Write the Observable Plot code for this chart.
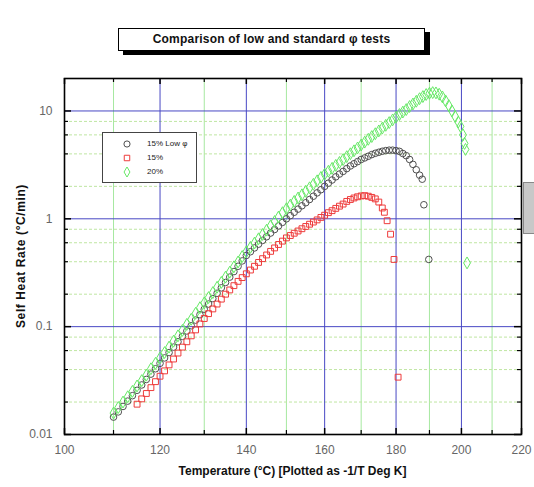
<!DOCTYPE html>
<html>
<head>
<meta charset="utf-8">
<script src="https://cdn.jsdelivr.net/npm/d3@7"></script>
<script src="https://cdn.jsdelivr.net/npm/@observablehq/plot@0.6"></script>
<style>
  body { margin: 0; background: #fff; }
  #wrap { position: relative; width: 534px; height: 487px; font-family: Arial, "Liberation Sans", sans-serif; }
  #wrap > svg { position: absolute; left: 0; top: 0; }
  .title { position: absolute; left: 118px; top: 28px; width: 305px; height: 21px; border: 1px solid #000; background: #fff;
           box-shadow: 5px 4px 0 #000; font-weight: bold; font-size: 12px; letter-spacing: 0.2px; text-align: center; line-height: 21px; color: #111; }
  .xlab { position: absolute; left: 64px; width: 457px; top: 464px; text-align: center; font-weight: bold; font-size: 12px; color: #111; }
  .ylab { position: absolute; left: 21px; top: 256px; transform: translate(-50%, -50%) rotate(-90deg); white-space: nowrap; font-weight: bold; font-size: 12px; letter-spacing: 0.6px; color: #111; }
  .legend { position: absolute; left: 102px; top: 132px; width: 93px; height: 49px; border: 1px solid #444; background: #fff; font-size: 8px; color: #222; }
  .legend .row { position: absolute; left: 0; height: 12px; line-height: 12px; width: 93px; }
  #wrap .legend .row svg { position: absolute; left: 18px; top: 1px; }
  .legend span { position: absolute; left: 44px; white-space: nowrap; }
  .side { position: absolute; left: 523px; top: 182px; width: 12px; height: 50px; background: #c8c8c8; border: 1px solid #888; }
</style>
</head>
<body>
<div id="wrap">
  <div class="title">Comparison of low and standard φ tests</div>
  <div class="xlab">Temperature (°C) [Plotted as -1/T Deg K]</div>
  <div class="ylab">Self Heat Rate (°C/min)</div>
  <div class="side"></div>
</div>
<script>
// ---- Data ----
const seriesNames = ["15% Low φ", "15%", "20%"];

const lowT = [110,111,112,113,114,115,116,117,118,119,120,121,122,123,124,125,126,127,128,129,130,131,132,133,134,135,136,137,138,139,140,141,142,143,144,145,146,147,148,149,150,151,152,153,154,155,156,157,158,159,160,161,162,163,164,165,166,167,168,169,170,171,172,173,174,175,176,177,178,179,180,181,182,183,184,185,186,187,187.8,188.3,189.8];
const lowRate = [0.0145,0.0162,0.0182,0.0204,0.0229,0.0257,0.0288,0.0324,0.0363,0.0407,0.0457,0.0513,0.0575,0.0646,0.0724,0.0813,0.0912,0.102,0.115,0.129,0.145,0.162,0.182,0.204,0.229,0.257,0.288,0.324,0.363,0.407,0.457,0.495,0.537,0.582,0.631,0.682,0.738,0.796,0.859,0.927,1.0,1.07,1.15,1.23,1.32,1.41,1.51,1.62,1.74,1.86,2.0,2.14,2.29,2.45,2.60,2.75,2.92,3.09,3.24,3.39,3.55,3.67,3.80,3.94,4.05,4.14,4.23,4.29,4.33,4.33,4.29,4.22,4.03,3.85,3.55,3.2,2.85,2.54,2.33,1.35,0.42];

const stdT = [115,116,117,118,119,120,121,122,123,124,125,126,127,128,129,130,131,132,133,134,135,136,137,138,139,140,141,142,143,144,145,146,147,148,149,150,151,152,153,154,155,156,157,158,159,160,161,162,163,164,165,166,167,168,169,170,171,172,173,174,175,176,176.6,177.4,178.4,179.4,180.6];
const stdRate = [0.0191,0.0214,0.0240,0.0272,0.0309,0.0347,0.0389,0.0442,0.0501,0.0569,0.0646,0.0724,0.0822,0.0933,0.106,0.119,0.132,0.146,0.162,0.180,0.200,0.219,0.240,0.263,0.285,0.309,0.335,0.363,0.394,0.427,0.462,0.499,0.537,0.578,0.621,0.665,0.700,0.735,0.771,0.809,0.849,0.891,0.933,0.977,1.03,1.08,1.14,1.19,1.25,1.31,1.37,1.45,1.51,1.56,1.60,1.63,1.64,1.62,1.58,1.53,1.43,1.26,1.15,0.96,0.72,0.42,0.034];

const t20T = [110,111,112,113,114,115,116,117,118,119,120,121,122,123,124,125,126,127,128,129,130,131,132,133,134,135,136,137,138,139,140,141,142,143,144,145,146,147,148,149,150,151,152,153,154,155,156,157,158,159,160,161,162,163,164,165,166,167,168,169,170,171,172,173,174,175,176,177,178,179,180,181,182,183,184,185,186,187,188,189,190,191,192,193,194,195,196,197,198,199,199.7,200.5,201,201.3,201.8];
const t20Rate = [0.0158,0.0178,0.0200,0.0224,0.0251,0.0282,0.0316,0.0355,0.0407,0.0457,0.0513,0.0575,0.0646,0.0733,0.0822,0.0923,0.105,0.117,0.133,0.150,0.166,0.186,0.207,0.232,0.257,0.288,0.320,0.359,0.398,0.447,0.495,0.543,0.596,0.653,0.716,0.785,0.861,0.944,1.04,1.14,1.24,1.34,1.45,1.56,1.67,1.80,1.94,2.09,2.25,2.42,2.59,2.76,2.94,3.13,3.33,3.54,3.77,4.01,4.27,4.54,4.83,5.14,5.46,5.79,6.15,6.53,6.93,7.36,7.80,8.26,8.75,9.27,9.77,10.3,11.0,11.6,12.3,13.0,13.6,14.2,14.6,14.8,14.7,14.3,13.5,12.4,11.2,10.0,8.9,7.9,7.2,6.0,5.0,4.4,0.39];

// Axis ticks (°C and rate)
const xMajor = [100,120,140,160,180,200,220];
const xMinor = [110,130,150,170,190,210];
const yMajor = [0.01,0.1,1,10];
const yMinor = [0.02,0.04,0.06,0.08,0.2,0.4,0.6,0.8,2,4,6,8];
const yDomain = [0.01, 20];

// ---- Build ----
const K = t => -1 / (t + 273.15);   // plotted as -1/T (Kelvin)
const rows = (T, R, s) => T.map((t, i) => ({T: t, rate: R[i], s}));
const low = rows(lowT, lowRate, seriesNames[0]);
const std = rows(stdT, stdRate, seriesNames[1]);
const t20 = rows(t20T, t20Rate, seriesNames[2]);

const colors = {"15% Low φ": "#505050", "15%": "#ee3b3b", "20%": "#66e866"};
const symbols = {"15% Low φ": "circle", "15%": "square", "20%": "diamond"};

const W = 534, H = 487, mL = 64, mR = 13, mT = 78, mB = 53;
const iw = W - mL - mR, ih = H - mT - mB;
const fmtT = v => String(Math.round(-1 / v - 273.15));

const chart = Plot.plot({
  width: W, height: H,
  marginLeft: mL, marginRight: mR, marginTop: mT, marginBottom: mB,
  style: {fontFamily: "Arial, 'Liberation Sans', sans-serif", fontSize: "12px", background: "transparent", overflow: "visible"},
  x: {domain: [K(100), K(220)]},
  y: {type: "log", domain: yDomain},
  marks: [
    // grid
    Plot.ruleX(xMinor, {x: K, stroke: "#a6e8a0", strokeWidth: 1}),
    Plot.ruleY(yMinor, {y: d => d, stroke: "#bfe6a2", strokeWidth: 1, strokeDasharray: "3,2"}),
    Plot.ruleX(xMajor.slice(1, -1), {x: K, stroke: "#4848c4", strokeWidth: 1}),
    Plot.ruleY(yMajor.slice(1), {y: d => d, stroke: "#4848c4", strokeWidth: 1}),
    // data
    Plot.dot(low, {x: d => K(d.T), y: "rate", symbol: symbols["15% Low φ"], r: 3.3, stroke: colors["15% Low φ"], fill: "none", strokeWidth: 1}),
    Plot.dot(std, {x: d => K(d.T), y: "rate", symbol: symbols["15%"], r: 3.3, stroke: colors["15%"], fill: "none", strokeWidth: 1}),
    Plot.dot(t20, {x: d => K(d.T), y: "rate", symbol: symbols["20%"], r: 3.6, stroke: colors["20%"], fill: "none", strokeWidth: 1}),
    // inward ticks
    Plot.tickX(xMajor, {x: K, insetTop: ih - 6, stroke: "#000", strokeWidth: 1.5}),
    Plot.tickX(xMinor, {x: K, insetTop: ih - 4, stroke: "#000", strokeWidth: 1.2}),
    Plot.tickX(xMajor, {x: K, insetBottom: ih - 6, stroke: "#000", strokeWidth: 1.5}),
    Plot.tickX(xMinor, {x: K, insetBottom: ih - 4, stroke: "#000", strokeWidth: 1.2}),
    Plot.tickY(yMajor, {y: d => d, insetRight: iw - 7, stroke: "#000", strokeWidth: 1.5}),
    Plot.tickY(yMinor, {y: d => d, insetRight: iw - 4, stroke: "#000", strokeWidth: 1.2}),
    Plot.tickY(yMajor, {y: d => d, insetLeft: iw - 7, stroke: "#000", strokeWidth: 1.5}),
    Plot.tickY(yMinor, {y: d => d, insetLeft: iw - 4, stroke: "#000", strokeWidth: 1.2}),
    Plot.frame({stroke: "#000", strokeWidth: 1.6}),
    // tick labels
    Plot.axisX({ticks: xMajor.map(K), tickFormat: fmtT, tickSize: 0, tickPadding: 11, label: null, fill: "#666", fontSize: 12}),
    Plot.axisY({ticks: yMajor, tickFormat: d => String(d), tickSize: 0, tickPadding: 12, label: null, fill: "#666", fontSize: 12})
  ]
});
document.getElementById("wrap").prepend(chart);

// legend
const legend = document.createElement("div");
legend.className = "legend";
seriesNames.forEach((name, i) => {
  const row = document.createElement("div");
  row.className = "row";
  row.style.top = (5 + i * 14) + "px";
  const s = d3.create("svg").attr("width", 12).attr("height", 10);
  s.append("path")
    .attr("transform", "translate(6,5)")
    .attr("d", d3.symbol(symbols[name] === "circle" ? d3.symbolCircle : symbols[name] === "square" ? d3.symbolSquare : d3.symbolDiamond, 30)())
    .attr("fill", "none").attr("stroke", colors[name]);
  row.appendChild(s.node());
  const sp = document.createElement("span");
  sp.textContent = name;
  row.appendChild(sp);
  legend.appendChild(row);
});
document.getElementById("wrap").appendChild(legend);
</script>
</body>
</html>
